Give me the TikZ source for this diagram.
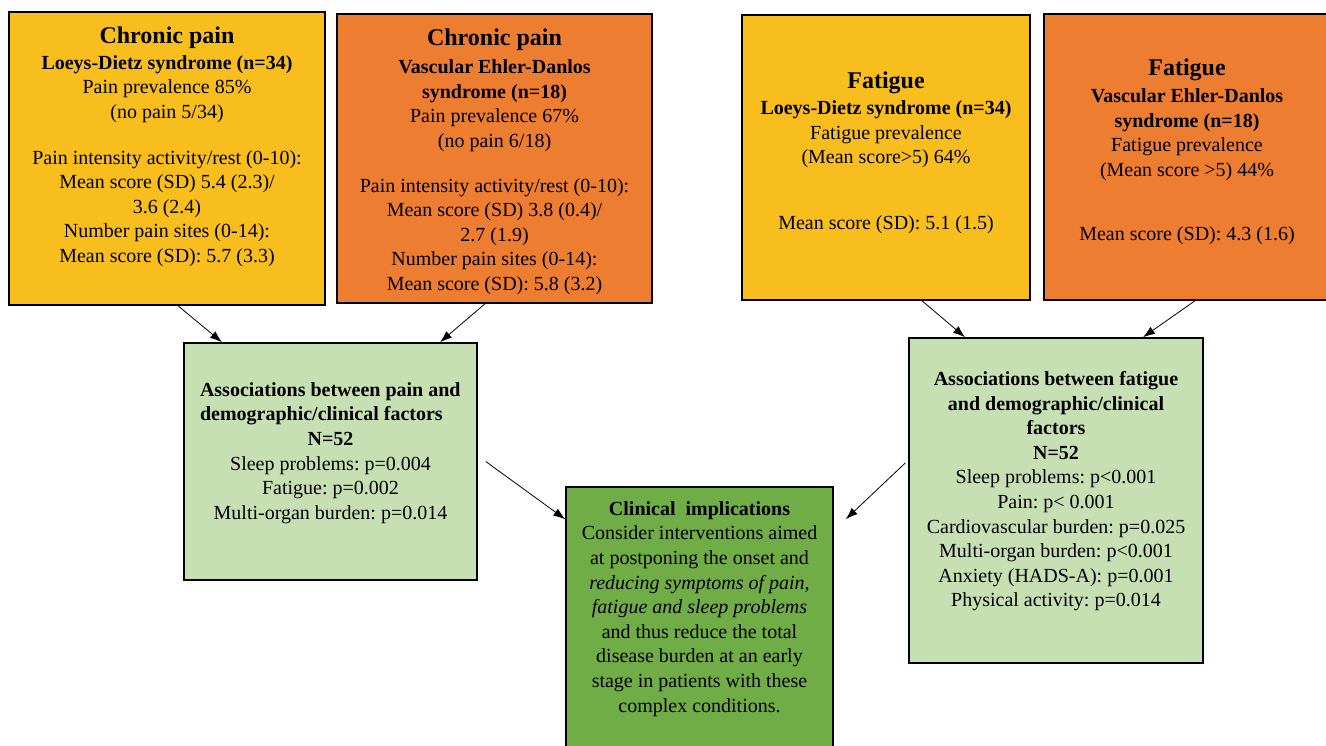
\documentclass[tikz,border=0pt]{standalone}
\usepackage{fontspec}
\setmainfont{Liberation Serif}
\usetikzlibrary{arrows.meta}

\definecolor{ldsyellow}{RGB}{248,190,30}
\definecolor{vedsorange}{RGB}{237,125,49}
\definecolor{assocgreen}{RGB}{198,224,180}
\definecolor{clingreen}{RGB}{112,173,71}

\newcommand{\boxtitle}[1]{{\fontsize{24}{24.6}\selectfont\bfseries #1}}
\newcommand{\flushhead}[1]{\makebox[261pt][l]{\textbf{#1}}}
\frenchspacing

\begin{document}
\begin{tikzpicture}[x=1pt, y={(0pt,-1pt)}, >={Latex[length=12pt,width=8.5pt]},
  box/.style={draw=black, line width=1.5pt, rectangle, inner sep=0pt},
  txt/.style={anchor=north, inner sep=0pt, align=center, font=\fontsize{20}{24.6}\selectfont},
  link/.style={->, line width=0.8pt}]
  % Khung trang
  \fill[white] (0,0) rectangle (1326,745);
  \useasboundingbox (0,0) rectangle (1326,745);

  % Các hộp phía trên
  \node[box, fill=ldsyellow, minimum width=316pt, minimum height=293pt] (ldsPain) at (167,158.5) {};
  \node[box, fill=vedsorange, minimum width=315pt, minimum height=289pt] (vedsPain) at (494.5,158.5) {};
  \node[box, fill=ldsyellow, minimum width=288pt, minimum height=285pt] (ldsFatigue) at (886,157.5) {};
  \node[box, fill=vedsorange, minimum width=286pt, minimum height=286pt] (vedsFatigue) at (1187,157) {};

  % Các hộp phía dưới
  \node[box, fill=assocgreen, minimum width=293pt, minimum height=237pt] (painAssoc) at (330.5,461.5) {};
  \node[box, fill=clingreen, minimum width=267pt, minimum height=263pt] (clinical) at (699.5,618.5) {};
  \node[box, fill=assocgreen, minimum width=294pt, minimum height=325pt] (fatigueAssoc) at (1056,500.5) {};

  % Chữ trong các hộp
  \node[txt] (ldsPainTxt) at ([yshift=-15.5pt]ldsPain.north) {\boxtitle{Chronic pain}\\[1pt]
    \textbf{Loeys-Dietz syndrome (n=34)}\\ Pain prevalence 85\%\\ (no pain 5/34)\\[21pt]
    Pain intensity activity/rest (0-10):\\ Mean score (SD) 5.4 (2.3)/\\ 3.6 (2.4)\\
    Number pain sites (0-14):\\ Mean score (SD): 5.7 (3.3)};
  \node[txt] (vedsPainTxt) at ([yshift=-15pt]vedsPain.north) {\boxtitle{Chronic pain}\\[4pt]
    \textbf{Vascular Ehler-Danlos}\\ \textbf{syndrome (n=18)}\\ Pain prevalence 67\%\\ (no pain 6/18)\\[20pt]
    Pain intensity activity/rest (0-10):\\ Mean score (SD) 3.8 (0.4)/\\ 2.7 (1.9)\\
    Number pain sites (0-14):\\ Mean score (SD): 5.8 (3.2)};
  \node[txt] (ldsFatigueTxt) at ([yshift=-57pt]ldsFatigue.north) {\boxtitle{Fatigue}\\[2pt]
    \textbf{Loeys-Dietz syndrome (n=34)}\\ Fatigue prevalence\\ (Mean score>5) 64\%\\[41pt]
    Mean score (SD): 5.1 (1.5)};
  \node[txt] (vedsFatigueTxt) at ([yshift=-45pt]vedsFatigue.north) {\boxtitle{Fatigue}\\[3pt]
    \textbf{Vascular Ehler-Danlos}\\ \textbf{syndrome (n=18)}\\ Fatigue prevalence\\ (Mean score >5) 44\%\\[39pt]
    Mean score (SD): 4.3 (1.6)};
  \node[txt] (painAssocTxt) at ([yshift=-40pt]painAssoc.north) {\flushhead{Associations between pain and}\\
    \flushhead{demographic/clinical factors}\\ \textbf{N=52}\\ Sleep problems: p=0.004\\
    Fatigue: p=0.002\\ Multi-organ burden: p=0.014};
  \node[txt] (clinicalTxt) at ([yshift=-15pt]clinical.north) {\textbf{Clinical\ \ implications}\\
    Consider interventions aimed\\ at postponing the onset and\\ \textit{reducing symptoms of pain,}\\
    \textit{fatigue and sleep problems}\\ and thus reduce the total\\ disease burden at an early\\
    stage in patients with these\\ complex conditions.};
  \node[txt] (fatigueAssocTxt) at ([yshift=-34pt]fatigueAssoc.north) {\textbf{Associations between fatigue}\\
    \textbf{and demographic/clinical}\\ \textbf{factors}\\ \textbf{N=52}\\ Sleep problems: p<0.001\\
    Pain: p< 0.001\\ Cardiovascular burden: p=0.025\\ Multi-organ burden: p<0.001\\
    Anxiety (HADS-A): p=0.001\\ Physical activity: p=0.014};

  % Các mũi tên
  \draw[link] ([xshift=11pt]ldsPain.south) -- ([xshift=-108.5pt]painAssoc.north);
  \draw[link] ([xshift=-9.5pt]vedsPain.south) -- ([xshift=109.5pt]painAssoc.north);
  \draw[link] ([xshift=36pt]ldsFatigue.south) -- ([xshift=-91pt]fatigueAssoc.north);
  \draw[link] ([xshift=8pt]vedsFatigue.south) -- ([xshift=87pt]fatigueAssoc.north);
  \draw[link] ([xshift=8pt]painAssoc.east) -- ([yshift=-33pt]clinical.north west);
  \draw[link] ([xshift=-3pt,yshift=37.5pt]fatigueAssoc.west) -- ([xshift=12pt,yshift=-33pt]clinical.north east);
\end{tikzpicture}
\end{document}
